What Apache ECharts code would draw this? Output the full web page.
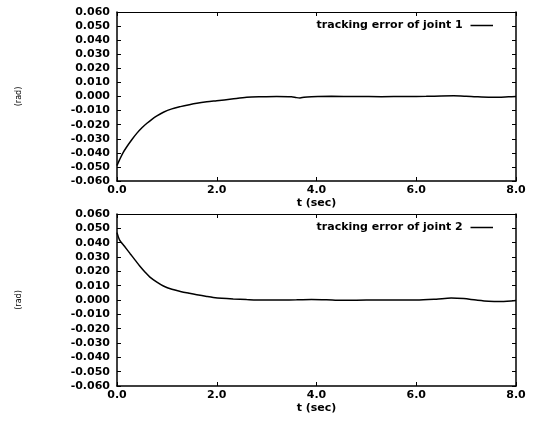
<!DOCTYPE html>
<html lang="en">

<head>
  <meta charset="UTF-8">
  <title>tracking error</title>
  <style>
    html, body { margin: 0; padding: 0; background: #fff; }
    #main { width: 536px; height: 421px; }
  </style>
  <script src="https://cdn.jsdelivr.net/npm/echarts@6/dist/echarts.min.js"></script>
</head>

<body>
  <div id="main"></div>

  <script>
    // time axis (sec) and tracking errors (rad)
    var timeJ1 = [0, 0.05, 0.12, 0.2, 0.3, 0.4, 0.5, 0.6, 0.7, 0.8, 0.93, 1.1, 1.27, 1.45, 1.6, 1.8, 2.0, 2.3, 2.6, 2.9, 3.2, 3.5, 3.6, 3.67, 3.75, 3.9, 4.3, 4.8, 5.3, 5.8, 6.2, 6.5, 6.75, 7.0, 7.2, 7.45, 7.65, 7.85, 8.0];
    var errJ1 = [-0.049, -0.045, -0.040, -0.0355, -0.0305, -0.026, -0.0222, -0.019, -0.0162, -0.0138, -0.0112, -0.0088, -0.0072, -0.0058, -0.0048, -0.0038, -0.003, -0.0018, -0.0006, -0.0002, 0, -0.0002, -0.0008, -0.001, -0.0005, -0.0002, 0.0001, 0, -0.0001, 0, 0.0001, 0.0004, 0.0005, 0.0002, -0.0002, -0.0005, -0.0005, -0.0002, 0];

    var timeJ2 = [0, 0.05, 0.15, 0.26, 0.36, 0.46, 0.56, 0.66, 0.8, 0.93, 1.1, 1.27, 1.45, 1.6, 1.8, 1.93, 2.1, 2.33, 2.6, 2.93, 3.3, 3.6, 3.9, 4.2, 4.5, 4.8, 5.2, 5.6, 6.0, 6.4, 6.7, 6.95, 7.2, 7.45, 7.7, 8.0];
    var errJ2 = [0.047, 0.042, 0.0375, 0.0325, 0.028, 0.0235, 0.0195, 0.016, 0.0125, 0.0098, 0.0075, 0.006, 0.0047, 0.0037, 0.0025, 0.0018, 0.0012, 0.0007, 0.0003, 0, 0, 0.0001, 0.0004, 0.0002, -0.0002, -0.0001, 0, 0, 0, 0.0006, 0.0014, 0.001, 0, -0.0008, -0.001, -0.0003];

    var legendNames = ['tracking error of joint 1', 'tracking error of joint 2'];

    function pairs(t, v) {
      var out = [];
      for (var i = 0; i < t.length; i++) out.push([t[i], v[i]]);
      return out;
    }

    var font = 'DejaVu Sans';
    var labelStyle = { color: '#000', fontFamily: font, fontWeight: 'bold', fontSize: 11 };
    var lineStyle = { color: '#000', width: 1.5 };

    // bottom / left axes with labels, top / right axes only for the frame ticks
    function xAxisMain(gi) {
      return {
        type: 'value', gridIndex: gi, min: 0, max: 8, interval: 2,
        name: 't (sec)', nameLocation: 'middle', nameGap: 17,
        nameTextStyle: labelStyle,
        axisLine: { onZero: false, lineStyle: lineStyle },
        axisTick: { inside: true, length: 4, lineStyle: { color: '#000' } },
        axisLabel: Object.assign({ margin: 4, formatter: function (v) { return v.toFixed(1); } }, labelStyle),
        splitLine: { show: false }
      };
    }
    function xAxisTop(gi) {
      return {
        type: 'value', gridIndex: gi, position: 'top', min: 0, max: 8, interval: 2,
        axisLine: { onZero: false, lineStyle: { color: '#000', width: 1 } },
        axisTick: { inside: true, length: 4, lineStyle: { color: '#000' } },
        axisLabel: { show: false }, splitLine: { show: false }
      };
    }
    function yAxisMain(gi) {
      return {
        type: 'value', gridIndex: gi, min: -0.06, max: 0.06, interval: 0.01,
        name: '(rad)', nameLocation: 'middle', nameGap: 94, nameRotate: 90,
        nameTextStyle: { color: '#000', fontFamily: font, fontSize: 8 },
        axisLine: { onZero: false, lineStyle: lineStyle },
        axisTick: { inside: true, length: 4, lineStyle: { color: '#000' } },
        axisLabel: Object.assign({ margin: 7, formatter: function (v) { return v.toFixed(3); } }, labelStyle),
        splitLine: { show: false }
      };
    }
    function yAxisRight(gi) {
      return {
        type: 'value', gridIndex: gi, position: 'right', min: -0.06, max: 0.06, interval: 0.01,
        axisLine: { onZero: false, lineStyle: lineStyle },
        axisTick: { inside: true, length: 4, lineStyle: { color: '#000' } },
        axisLabel: { show: false }, splitLine: { show: false }
      };
    }

    var myChart = echarts.init(document.getElementById('main'), null, { renderer: 'canvas' });

    var legendIcon = 'path://M0,0H30V2H0Z';

    var option = {
      backgroundColor: '#fff',
      animation: false,
      grid: [
        { left: 117, top: 12, width: 399, height: 169 },
        { left: 117, top: 214, width: 399, height: 172 }
      ],
      legend: [
        {
          data: [legendNames[0]], right: 38, top: 15, align: 'right', icon: legendIcon,
          itemWidth: 28, itemHeight: 1.5, itemGap: 4, textStyle: labelStyle
        },
        {
          data: [legendNames[1]], right: 38, top: 217, align: 'right', icon: legendIcon,
          itemWidth: 28, itemHeight: 1.5, itemGap: 4, textStyle: labelStyle
        }
      ],
      xAxis: [xAxisMain(0), xAxisTop(0), xAxisMain(1), xAxisTop(1)],
      yAxis: [yAxisMain(0), yAxisRight(0), yAxisMain(1), yAxisRight(1)],
      series: [
        {
          name: legendNames[0], type: 'line', xAxisIndex: 0, yAxisIndex: 0,
          symbol: 'none', smooth: 0.3, lineStyle: lineStyle, itemStyle: { color: '#000' },
          data: pairs(timeJ1, errJ1)
        },
        {
          name: legendNames[1], type: 'line', xAxisIndex: 2, yAxisIndex: 2,
          symbol: 'none', smooth: 0.3, lineStyle: lineStyle, itemStyle: { color: '#000' },
          data: pairs(timeJ2, errJ2)
        }
      ]
    };

    myChart.setOption(option);
  </script>
</body>

</html>
